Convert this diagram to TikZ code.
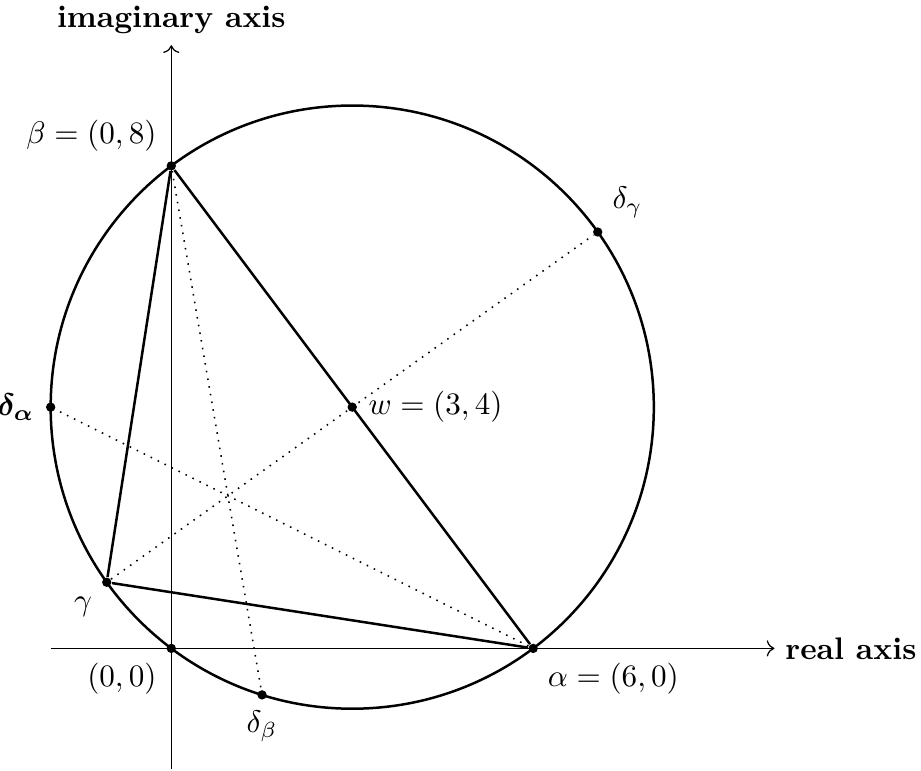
\documentclass[tikz,border=0pt]{standalone}
\usepackage{amsmath,amssymb,bm}
\usetikzlibrary{arrows.meta,calc,positioning}

\begin{document}
\begin{tikzpicture}[scale=0.68]
\tikzset{pt/.style={circle, fill, inner sep=0pt, minimum size=3pt}}
\useasboundingbox (-2.84,-2.03) rectangle (12.43,10.75);
\coordinate (xl) at (-2,0);
\coordinate (xr) at (10,0);
\coordinate (yb) at (0,-2);
\coordinate (yt) at (0,10);
\draw[->] (xl) -- (xr) node[right] (re) {\textbf{real axis}};
\draw[->] (yb) -- (yt) node[above] (im) {\textbf{imaginary axis}};
\node[pt, label=below left:{$(0,0)$}] (o) at (0,0) {};
\node[pt, label=right:{$w=(3,4)$}] (w) at (3,4) {};
\node[pt, label=below right:{$\alpha=(6,0)$}] (a) at (6,0) {};
\node[pt, label=above left:{$\beta=(0,8)$}] (b) at (0,8) {};
\node[pt, label=below left:{$\gamma$}] (g) at ($(w)+(215.5:5)$) {};
\node[pt, label=left:{$\bm{\delta_{\alpha}}$}] (da) at (-2,4) {};
\node[pt, label=below:{$\delta_{\beta}$}] (db) at ($(w)+(252.6:5)$) {};
\node[pt, label=above right:{$\delta_{\gamma}$}] (dg) at ($(w)+(35.5:5)$) {};
\draw[thick] (w) circle (5);
\draw[thick] (a) -- (b) -- (g) -- (a);
\draw[dotted, line width=0.5pt] (a) -- (da);
\draw[dotted, line width=0.5pt] (b) -- (db);
\draw[dotted, line width=0.5pt] (g) -- (dg);
\end{tikzpicture}
\end{document}
